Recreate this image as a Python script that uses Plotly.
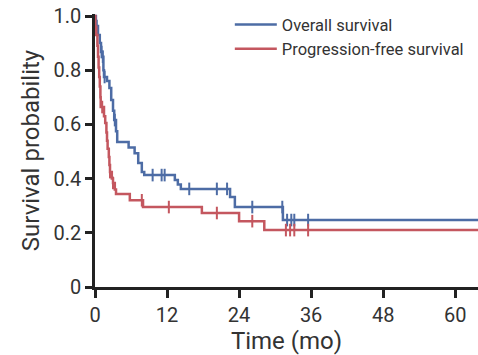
import numpy as np
import plotly.graph_objects as go

# Overall survival (step function)
os_time = [0, 0.15, 0.5, 0.8, 1.0, 1.2, 1.4, 1.5, 2.0, 2.4, 2.7, 3.0, 3.2, 3.5, 3.7,
           5.6, 6.6, 7.2, 7.8, 8.2, 13.3, 13.8, 14.3, 22.5, 23.3, 31.3, 63.8]
os_surv = [1.0, 0.963, 0.93, 0.90, 0.867, 0.85, 0.80, 0.775, 0.76, 0.734, 0.69, 0.65, 0.616, 0.575, 0.535,
           0.515, 0.494, 0.458, 0.424, 0.413, 0.395, 0.378, 0.362, 0.332, 0.295, 0.247, 0.247]
os_censor = [0.3, 1.1, 1.3, 1.6, 3.3, 9.6, 11.1, 11.6, 15.7, 20.3, 22.0, 26.2, 31.2, 32.0, 32.7, 33.2, 35.5]

# Progression-free survival (step function)
pfs_time = [0, 0.05, 0.2, 0.4, 0.5, 0.6, 0.7, 0.8, 0.9, 0.95, 1.5, 1.7, 1.9, 2.0, 2.1, 2.3, 2.4, 2.5,
            2.8, 3.0, 3.3, 3.5, 5.8, 8.0, 17.8, 24.0, 28.2, 63.8]
pfs_surv = [1.0, 0.96, 0.93, 0.89, 0.85, 0.81, 0.775, 0.74, 0.70, 0.664, 0.63, 0.605, 0.57, 0.54, 0.51,
            0.48, 0.45, 0.424, 0.40, 0.384, 0.36, 0.343, 0.32, 0.295, 0.273, 0.243, 0.21, 0.21]
pfs_censor = [1.2, 2.5, 3.0, 7.8, 12.3, 20.3, 26.2, 31.8, 32.5, 33.2, 35.5]

x_ticks = [0, 12, 24, 36, 48, 60]
y_ticks = [0, 0.2, 0.4, 0.6, 0.8, 1.0]
y_labels = ["0", "0.2", "0.4", "0.6", "0.8", "1.0"]

BLUE = "#4d6ca5"
RED = "#c4575f"
FONT = "Roboto, sans-serif"


def surv_at(times, survs, t):
    idx = np.searchsorted(np.array(times), t, side="right") - 1
    return [survs[i] for i in idx]


fig = go.Figure()
for name, t, s, c, col in [
    ("Overall survival", os_time, os_surv, os_censor, BLUE),
    ("Progression-free survival", pfs_time, pfs_surv, pfs_censor, RED),
]:
    fig.add_trace(go.Scatter(x=t, y=s, mode="lines", line=dict(color=col, width=2.5, shape="hv"),
                             name=name, cliponaxis=False))
    fig.add_trace(go.Scatter(x=c, y=surv_at(t, s, c), mode="markers", showlegend=False,
                             marker=dict(symbol="line-ns-open", size=9, color=col,
                                         line=dict(color=col, width=2)),
                             hoverinfo="skip", cliponaxis=False))

fig.update_layout(
    width=478, height=355,
    margin=dict(l=95, r=0, t=14, b=68, autoexpand=False),
    plot_bgcolor="white", paper_bgcolor="white",
    font=dict(family=FONT, size=20, color="#333333"),
    legend=dict(x=0.352, y=1.025, xanchor="left", yanchor="top", bgcolor="rgba(0,0,0,0)",
                font=dict(size=16.5, color="#333333"), itemwidth=42, tracegroupgap=0),
    xaxis=dict(range=[0, 63.8], tickvals=x_ticks, showline=True, linecolor="#222222", linewidth=2.5,
               ticks="outside", ticklen=8, tickwidth=2.5, tickcolor="#222222", showgrid=False,
               zeroline=False, automargin=False, title=dict(text="Time (mo)", standoff=2)),
    yaxis=dict(range=[0, 1.0074], tickvals=y_ticks, ticktext=y_labels, showline=True, linecolor="#222222",
               linewidth=2.5, ticks="outside", ticklen=7, tickwidth=2.5, tickcolor="#222222",
               showgrid=False, zeroline=False, automargin=False,
               title=dict(text="Survival probability", standoff=8)),
)

fig.write_html("out.html", config={"displayModeBar": False},
               post_script="document.body.style.margin='0';")
